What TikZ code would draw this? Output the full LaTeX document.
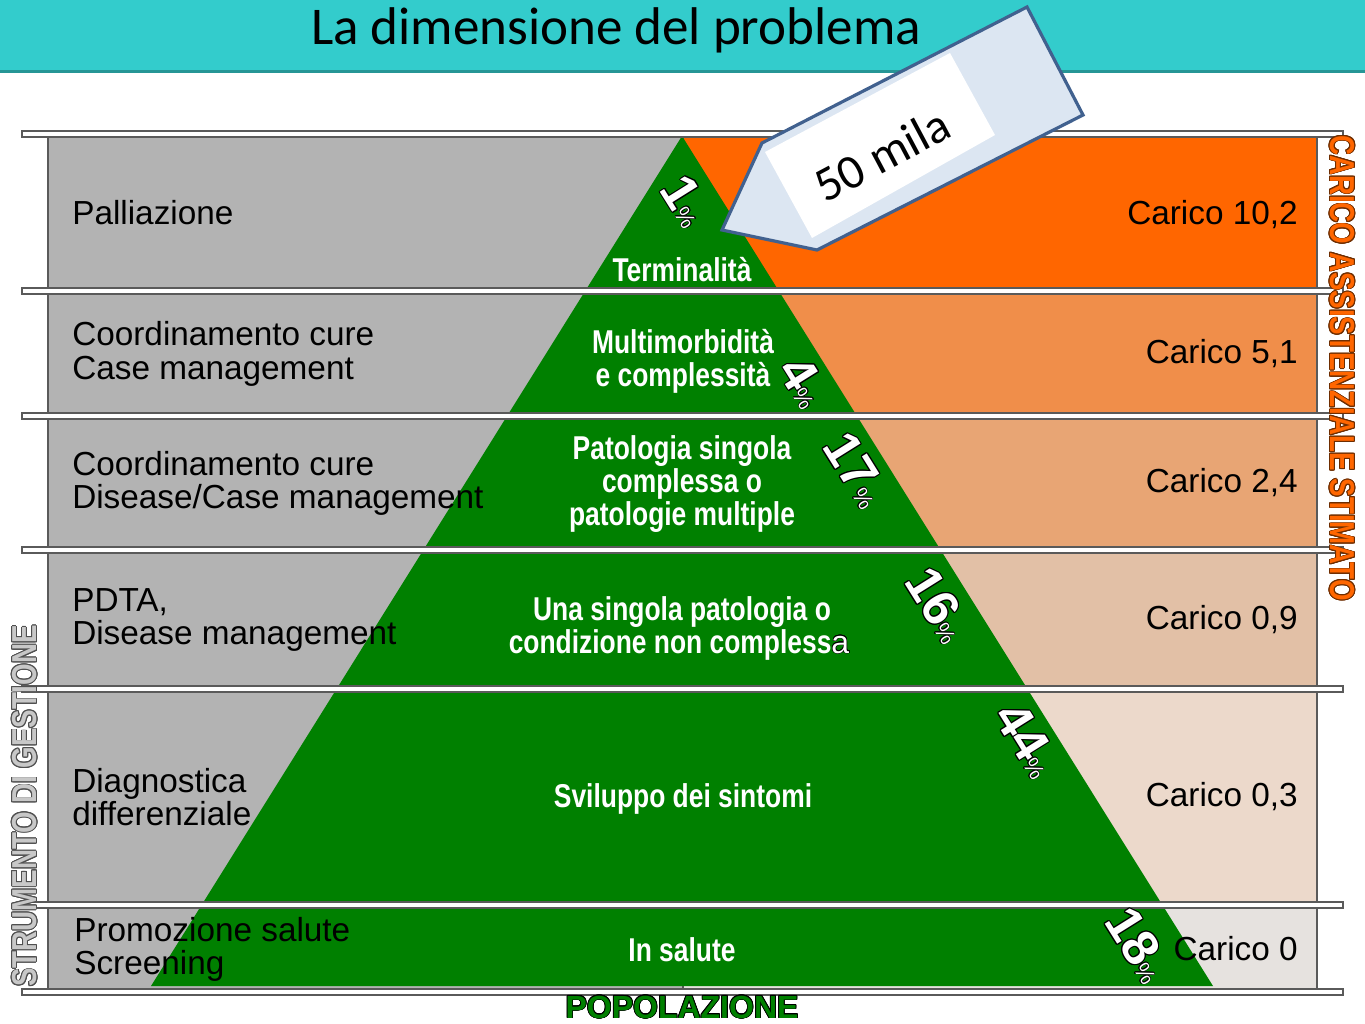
\documentclass[tikz,border=0pt]{standalone}
\usepackage{fontspec}
\setmainfont{Liberation Sans}
\newfontfamily\calf{Carlito}
\newfontfamily\condf[FakeStretch=0.8]{Liberation Sans Bold}
\newfontfamily\boldf{Liberation Sans Bold}
\usepackage{contour}
\contourlength{0.6pt}
\definecolor{titlecol}{RGB}{51,204,204}
\definecolor{titleline}{RGB}{38,150,150}
\definecolor{panelgray}{RGB}{179,179,179}
\definecolor{carA}{RGB}{255,102,0}
\definecolor{carB}{RGB}{240,142,74}
\definecolor{carC}{RGB}{232,165,116}
\definecolor{carD}{RGB}{226,192,166}
\definecolor{carE}{RGB}{236,217,203}
\definecolor{carF}{RGB}{230,226,223}
\definecolor{pyr}{RGB}{0,128,0}
\definecolor{callfill}{RGB}{220,230,242}
\definecolor{callborder}{RGB}{65,97,143}
\definecolor{edge}{RGB}{90,90,90}
\definecolor{strufill}{RGB}{200,200,200}
\definecolor{struline}{RGB}{80,80,80}
\definecolor{caricoline}{RGB}{110,45,0}
\newcommand\pctlbl[1]{\contourlength{0.7pt}\contour{black}{\boldf\fontsize{38}{38}\selectfont #1}\contourlength{0.4pt}\contour{black}{\normalfont\fontsize{17}{17}\selectfont\%}}
\begin{document}
\begin{tikzpicture}[x=0.75pt,y=-0.75pt,
  leftlbl/.style={anchor=base west, font=\fontsize{25}{28}\selectfont, text=black, inner sep=0pt},
  rightlbl/.style={anchor=base east, font=\fontsize{25}{28}\selectfont, text=black, inner sep=0pt},
  greenlbl/.style={anchor=base, font=\condf\fontsize{24.75}{28}\selectfont, text=white, inner sep=0pt},
  pct/.style={text=white, inner sep=0pt, rotate=-58},
]
\useasboundingbox (0,0) rectangle (1365,1024);
\fill[white] (0,0) rectangle (1365,1024);
% title bar
\fill[titlecol] (0,0) rectangle (1365,70);
\fill[titleline] (0,70) rectangle (1365,73);
\node[anchor=base, font=\calf\fontsize{39.8}{40}\selectfont, inner sep=0pt] (title) at (616,45) {La dimensione del problema};
% rows
\foreach \t/\b/\c in {137/288/carA,294/413/carB,419/547/carC,553/686/carD,692/902/carE,908/989/carF}{
  \filldraw[fill=panelgray, draw=edge, line width=0.8pt] (48,\t) rectangle (683,\b);
  \filldraw[fill=\c, draw=edge, line width=0.8pt] (683,\t) rectangle (1317,\b);
}
% pyramid
\fill[pyr] (682,136) -- (1213,986) -- (151,986) -- cycle;
% separator bars
\foreach \t in {131,288,413,547,686,902,989}{
  \filldraw[fill=white, draw=edge, line width=0.8pt] (22,\t) rectangle (1343,{\t+6});
}
% left labels
\node[leftlbl] (l1) at (72,224) {Palliazione};
\node[leftlbl] (l2a) at (72,345) {Coordinamento cure};
\node[leftlbl] (l2b) at (72,379) {Case management};
\node[leftlbl] (l3a) at (72,475) {Coordinamento cure};
\node[leftlbl] (l3b) at (72,508) {Disease/Case management};
\node[leftlbl] (l4a) at (72,611) {PDTA,};
\node[leftlbl] (l4b) at (72,644) {Disease management};
\node[leftlbl] (l5a) at (72,792) {Diagnostica};
\node[leftlbl] (l5b) at (72,825) {differenziale};
\node[leftlbl] (l6a) at (74,941) {Promozione salute};
\node[leftlbl] (l6b) at (74,974) {Screening};
% right labels
\node[rightlbl] (r1) at (1298,224) {Carico 10,2};
\node[rightlbl] (r2) at (1298,363) {Carico 5,1};
\node[rightlbl] (r3) at (1298,492) {Carico 2,4};
\node[rightlbl] (r4) at (1298,629) {Carico 0,9};
\node[rightlbl] (r5) at (1298,806) {Carico 0,3};
\node[rightlbl] (r6) at (1298,960) {Carico 0};
% green labels
\node[greenlbl] (g1) at (682,281) {Terminalità};
\node[greenlbl] (g2a) at (683,353) {Multimorbidità};
\node[greenlbl] (g2b) at (683,386) {e complessità};
\node[greenlbl] (g3a) at (682,459) {Patologia singola};
\node[greenlbl] (g3b) at (682,492) {complessa o};
\node[greenlbl] (g3c) at (682,525) {patologie multiple};
\node[greenlbl] (g4a) at (682,620) {Una singola patologia o};
\node[greenlbl] (g4b) at (679,653) {condizione non compless\contourlength{0.4pt}\contour{black}{\normalfont\fontsize{24}{28}\selectfont a}};
\node[greenlbl] (g5) at (683,807) {Sviluppo dei sintomi};
\node[greenlbl] (g6) at (682,961) {In salute};
% percentages
\node[pct] (p1) at (686,201) {\pctlbl{1}};
\node[pct] (p2) at (804,382) {\pctlbl{4}};
\node[pct] (p3) at (856,470) {\pctlbl{17}};
\node[pct] (p4) at (938,605) {\pctlbl{16}};
\node[pct] (p5) at (1027,740) {\pctlbl{44}};
\node[pct] (p6) at (1138,945) {\pctlbl{18}};
% axis titles
\node[rotate=90, text=strufill, font=\condf\fontsize{26}{28}\selectfont, inner sep=0pt] (stru) at (25,806) {\contourlength{0.6pt}\contour{struline}{STRUMENTO DI GESTIONE}};
\node[rotate=-90, text=carA, font=\condf\fontsize{26}{28}\selectfont, inner sep=0pt] (car) at (1342,368) {\contourlength{0.6pt}\contour{caricoline}{CARICO ASSISTENZIALE STIMATO}};
\node[anchor=base, text=pyr, font=\boldf\fontsize{24}{28}\selectfont, inner sep=0pt] (pop) at (682,1018) {\contourlength{0.6pt}\contour{black}{POPOLAZIONE}};
% callout
\fill[callfill] (722,230) -- (762,143) -- (1027,7) -- (1083,115) -- (817,250) -- cycle;
\fill[white] (765,152) -- (950,53) -- (995,135) -- (812,238) -- cycle;
\draw[callborder, line width=2.4pt, line join=miter] (722,230) -- (762,143) -- (1027,7) -- (1083,115) -- (817,250) -- cycle;
\node[rotate=28, font=\calf\fontsize{36.5}{38}\selectfont, inner sep=0pt] (mila) at (882,155) {50 mila};
\end{tikzpicture}
\end{document}
